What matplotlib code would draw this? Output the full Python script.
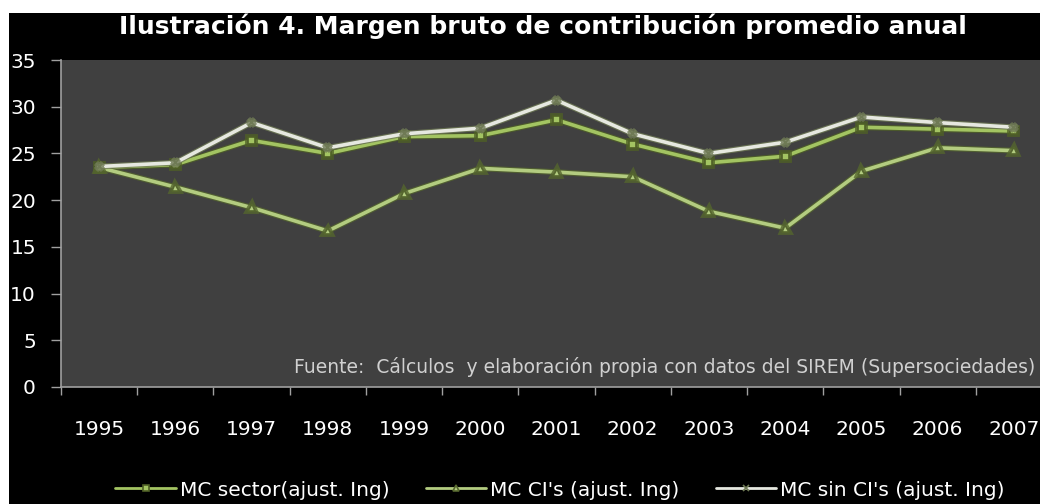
import matplotlib
matplotlib.use("Agg")
import matplotlib.pyplot as plt
import matplotlib.patheffects as pe
from matplotlib.patches import Rectangle

years = ["1995", "1996", "1997", "1998", "1999", "2000", "2001",
         "2002", "2003", "2004", "2005", "2006", "2007"]
mc_sector = [23.5, 23.8, 26.4, 25.0, 26.8, 26.9, 28.6, 26.0, 24.0, 24.7, 27.8, 27.6, 27.4]
mc_cis = [23.5, 21.4, 19.2, 16.7, 20.7, 23.4, 23.0, 22.5, 18.8, 17.0, 23.1, 25.6, 25.3]
mc_sin_cis = [23.6, 24.0, 28.3, 25.6, 27.1, 27.7, 30.7, 27.1, 25.0, 26.2, 28.9, 28.3, 27.8]
series_names = ["MC sector(ajust. Ing)", "MC CI's (ajust. Ing)", "MC sin CI's (ajust. Ing)"]
yticks = [0, 5, 10, 15, 20, 25, 30, 35]

W, H = 1040, 504
fig = plt.figure(figsize=(10.4, 5.04), dpi=100, facecolor="white")
bg = Rectangle((9/W, 0), 1, 1 - 13/H, transform=fig.transFigure,
               facecolor="black", edgecolor="none", zorder=-10)
fig.add_artist(bg)
ax = fig.add_axes([61/W, 1-387/H, 991/W, 327/H])
ax.set_zorder(1)
ax.set_facecolor("#404040")

x = list(range(len(years)))
styles = [
    (mc_sector, "#a3c462", "s", "#4f6026"),
    (mc_cis, "#b3cc80", "^", "#55662e"),
    (mc_sin_cis, "#e6e8e0", "x", "#6f7a55"),
]
handles = []
for (vals, col, mk, shade), name in zip(styles, series_names):
    h, = ax.plot(x, vals, color=col, lw=2.6, marker=mk, ms=5, mfc=col, mec=shade,
                 mew=1.2, label=name, solid_capstyle="round",
                 path_effects=[pe.Stroke(linewidth=4.2, foreground=shade, alpha=0.8), pe.Normal()],
                 zorder=3)
    handles.append(h)

ax.set_xlim(-0.5, 12.5)
ax.set_ylim(0, 35)
ax.set_yticks(yticks)
ax.set_yticklabels([str(v) for v in yticks], color="white", fontsize=14.5)
ax.set_xticks(x)
ax.set_xticklabels(years, color="white", fontsize=14.5)
ax.tick_params(axis="x", length=0, pad=24)
ax.set_xticks([i - 0.5 for i in range(len(years) + 1)], minor=True)
ax.tick_params(axis="x", which="minor", length=6, color="#a0a0a0", width=1)
ax.tick_params(axis="y", length=7, color="#a0a0a0", width=1, pad=11)
for s in ["top", "right"]:
    ax.spines[s].set_visible(False)
for s in ["left", "bottom"]:
    ax.spines[s].set_color("#a0a0a0")
    ax.spines[s].set_linewidth(1.2)

fig.text(543/W, 1-26/H, "Ilustración 4. Margen bruto de contribución promedio anual",
         color="white", fontsize=18, fontweight="bold", ha="center", va="center", zorder=2)
fig.text(1035/W, 1-367/H,
         "Fuente:  Cálculos  y elaboración propia con datos del SIREM (Supersociedades)",
         color="#d0d0d0", fontsize=13.5, ha="right", va="center", zorder=5)

leg = fig.legend(handles=handles, loc="center", bbox_to_anchor=(560/W, 1-490/H),
                 ncol=3, frameon=False, fontsize=14.5, labelcolor="white",
                 handlelength=3.0, columnspacing=1.8, handletextpad=0.2,
                 borderpad=0.1)
leg.set_zorder(5)
for lh in leg.get_lines():
    lh.set_linewidth(2)
    lh.set_path_effects([])

fig.savefig("out.png", dpi=100, facecolor="white")
